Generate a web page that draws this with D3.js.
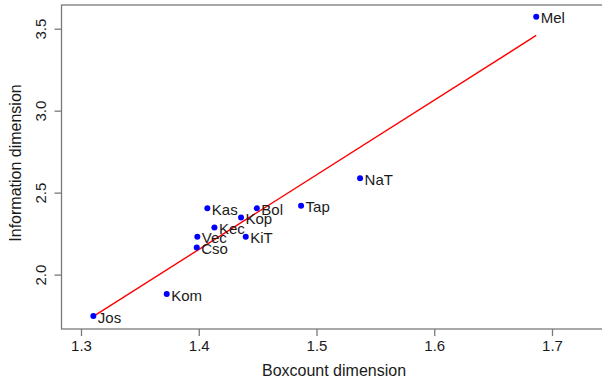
<!DOCTYPE html>
<html>
<head>
<meta charset="utf-8">
<script src="https://cdn.jsdelivr.net/npm/d3@7"></script>
<style>
  html, body { margin: 0; padding: 0; background: #fff; }
  svg { display: block; font-family: "Liberation Sans", Arial, sans-serif; }
</style>
</head>
<body>
<svg id="chart" width="602" height="380"></svg>
<script>
// Site names with their boxcount and information dimensions
const sites = ["Mel", "NaT", "Tap", "Bol", "Kas", "Kop", "Kec", "KiT", "Vec", "Cso", "Kom", "Jos"];
const boxcount = [1.6866, 1.5370, 1.4869, 1.4493, 1.4073, 1.4359, 1.4133, 1.4399, 1.3988, 1.3983, 1.3728, 1.3105];
const information = [3.573, 2.587, 2.420, 2.404, 2.404, 2.349, 2.288, 2.231, 2.231, 2.166, 1.881, 1.747];

const xTicks = [1.3, 1.4, 1.5, 1.6, 1.7];
const yTicks = [2.0, 2.5, 3.0, 3.5];

const svg = d3.select("#chart");

const plot = { left: 61.5, right: 640, top: 5, bottom: 329 };

const x = d3.scaleLinear().domain([1.3, 1.7]).range([81, 552]);
const y = d3.scaleLinear().domain([2.0, 3.5]).range([274.6, 28.7]);

const axisColor = "#7a7a7a";
const textColor = "#1a1a1a";

// Plot frame
svg.append("rect")
  .attr("x", plot.left).attr("y", plot.top)
  .attr("width", plot.right - plot.left).attr("height", plot.bottom - plot.top)
  .attr("fill", "none").attr("stroke", axisColor).attr("stroke-width", 1.3);

// X axis
const gx = svg.append("g")
  .attr("transform", `translate(0,${plot.bottom})`)
  .call(d3.axisBottom(x).tickValues(xTicks).tickSize(7).tickPadding(4).tickFormat(d3.format(".1f")));
gx.select(".domain").remove();
gx.selectAll(".tick line").attr("stroke", axisColor).attr("stroke-width", 1.3);
gx.selectAll(".tick text")
  .attr("fill", textColor).attr("font-size", 15)
  .attr("font-family", "Liberation Sans, Arial, sans-serif");

// Y axis with rotated labels
const gy = svg.append("g")
  .attr("transform", `translate(${plot.left},0)`)
  .call(d3.axisLeft(y).tickValues(yTicks).tickSize(7).tickFormat(d3.format(".1f")));
gy.select(".domain").remove();
gy.selectAll(".tick line").attr("stroke", axisColor).attr("stroke-width", 1.3);
gy.selectAll(".tick text")
  .attr("fill", textColor).attr("font-size", 15)
  .attr("font-family", "Liberation Sans, Arial, sans-serif")
  .attr("text-anchor", "middle")
  .attr("dy", null)
  .attr("x", 0).attr("y", 0)
  .attr("dominant-baseline", "central")
  .attr("transform", `translate(-21.5,0) rotate(-90)`);

// Axis titles
svg.append("text")
  .attr("x", 334).attr("y", 370)
  .attr("text-anchor", "middle").attr("dominant-baseline", "central")
  .attr("font-size", 16).attr("fill", textColor)
  .text("Boxcount dimension");

svg.append("text")
  .attr("transform", "translate(15,163) rotate(-90)")
  .attr("text-anchor", "middle").attr("dominant-baseline", "central")
  .attr("font-size", 16).attr("fill", textColor)
  .text("Information dimension");

// Least-squares fit drawn across the range of the data
const n = boxcount.length;
const mx = d3.mean(boxcount), my = d3.mean(information);
let sxy = 0, sxx = 0;
for (let i = 0; i < n; i++) {
  sxy += (boxcount[i] - mx) * (information[i] - my);
  sxx += (boxcount[i] - mx) ** 2;
}
const slope = sxy / sxx;
const intercept = my - slope * mx;
const [xmin, xmax] = d3.extent(boxcount);
svg.append("line")
  .attr("x1", x(xmin)).attr("y1", y(intercept + slope * xmin))
  .attr("x2", x(xmax)).attr("y2", y(intercept + slope * xmax))
  .attr("stroke", "#ff0000").attr("stroke-width", 1.4);

// Points and their labels
const data = sites.map((s, i) => ({ site: s, bx: boxcount[i], inf: information[i] }));

svg.append("g").selectAll("circle")
  .data(data).join("circle")
  .attr("cx", d => x(d.bx)).attr("cy", d => y(d.inf))
  .attr("r", 3).attr("fill", "#0000ff");

svg.append("g").selectAll("text")
  .data(data).join("text")
  .attr("x", d => x(d.bx) + 4.5).attr("y", d => y(d.inf) + 1)
  .attr("dominant-baseline", "central")
  .attr("font-size", 15).attr("fill", textColor)
  .text(d => d.site);
</script>
</body>
</html>
